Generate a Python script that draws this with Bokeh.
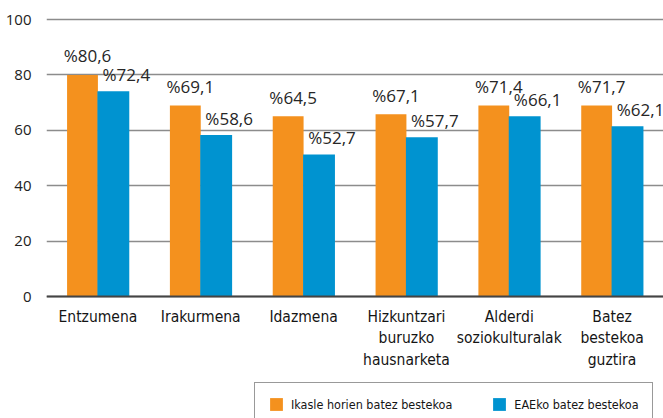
from bokeh.plotting import figure
from bokeh.models import (FactorRange, Range1d, FixedTicker, ColumnDataSource,
                          Legend, LegendItem)
from bokeh.transform import dodge
from bokeh.core.properties import value
from bokeh.embed import file_html
from bokeh.resources import INLINE

categories = ["Entzumena", "Irakurmena", "Idazmena",
              "Hizkuntzari\nburuzko\nhausnarketa",
              "Alderdi\nsoziokulturalak", "Batez\nbestekoa\nguztira"]
series_names = ["Ikasle horien batez bestekoa", "EAEko batez bestekoa"]
ikasle_values = [80.0, 69.0, 65.1, 65.8, 69.0, 69.0]
eae_values = [74.1, 58.3, 51.3, 57.5, 65.1, 61.5]
ikasle_labels = ["%80,6", "%69,1", "%64,5", "%67,1", "%71,4", "%71,7"]
eae_labels = ["%72,4", "%58,6", "%52,7", "%57,7", "%66,1", "%62,1"]
y_ticks = [0, 20, 40, 60, 80, 100]

ORANGE = "#F4911E"
BLUE = "#0093D0"
COND = "DejaVu Sans Condensed"
GEO = "Open Sans"

src = ColumnDataSource(dict(cat=categories, ik=ikasle_values, ea=eae_values,
                            ikl=ikasle_labels, eal=eae_labels))

p = figure(width=663, height=418, output_backend="svg", toolbar_location=None,
           x_range=FactorRange(factors=categories, range_padding=0),
           y_range=Range1d(-44.04, 101.1),
           min_border_left=46, min_border_right=0, min_border_top=16,
           min_border_bottom=0)
p.outline_line_color = None
p.background_fill_color = "white"

r1 = p.vbar(x=dodge("cat", -0.15, range=p.x_range), top="ik", width=0.3,
            source=src, fill_color=ORANGE, line_color=None)
r2 = p.vbar(x=dodge("cat", 0.15, range=p.x_range), top="ea", width=0.31,
            source=src, fill_color=BLUE, line_color=None)

p.text(x=dodge("cat", -0.15, range=p.x_range), y="ik", text="ikl", source=src,
       x_offset=5, y_offset=-19, text_align="center", text_baseline="alphabetic",
       text_font=value(GEO), text_font_size="17px", text_color="#262626")
p.text(x=dodge("cat", 0.15, range=p.x_range), y="ea", text="eal", source=src,
       x_offset=13, y_offset=-17, text_align="center", text_baseline="alphabetic",
       text_font=value(GEO), text_font_size="17px", text_color="#262626")

p.xgrid.grid_line_color = None
p.ygrid.ticker = FixedTicker(ticks=y_ticks)
p.ygrid.grid_line_color = "#8c8c8c"
p.ygrid.grid_line_width = 1.5

p.yaxis.ticker = FixedTicker(ticks=y_ticks)
p.yaxis.axis_line_color = None
p.yaxis.major_tick_line_color = None
p.yaxis.minor_tick_line_color = None
p.yaxis.major_label_standoff = 9
p.yaxis.major_label_text_font = GEO
p.yaxis.major_label_text_font_size = "15px"
p.yaxis.major_label_text_color = "#222222"

p.xaxis.fixed_location = 0
p.xaxis.axis_line_color = "#444444"
p.xaxis.axis_line_width = 2
p.xaxis.major_tick_line_color = None
p.xaxis.minor_tick_line_color = None
p.xaxis.major_tick_out = 0
p.xaxis.major_label_standoff = 11
p.xaxis.major_label_text_font = COND
p.xaxis.major_label_text_font_size = "15.5px"
p.xaxis.major_label_text_color = "#151515"
p.xaxis.major_label_text_line_height = 1.22
p.xaxis.major_label_orientation = "horizontal"

legend = Legend(items=[LegendItem(label=series_names[0], renderers=[r1]),
                       LegendItem(label=series_names[1], renderers=[r2])],
                orientation="horizontal", location=(208, -8),
                padding=13, spacing=39, label_standoff=7,
                glyph_width=16, glyph_height=16, label_height=16,
                label_text_font=COND, label_text_font_size="12.5px",
                label_text_color="#151515", label_text_baseline="middle",
                border_line_color="#333333", border_line_width=1.5,
                background_fill_alpha=1, margin=0)
p.add_layout(legend, "center")

open("out.html", "w").write(file_html(p, INLINE))
